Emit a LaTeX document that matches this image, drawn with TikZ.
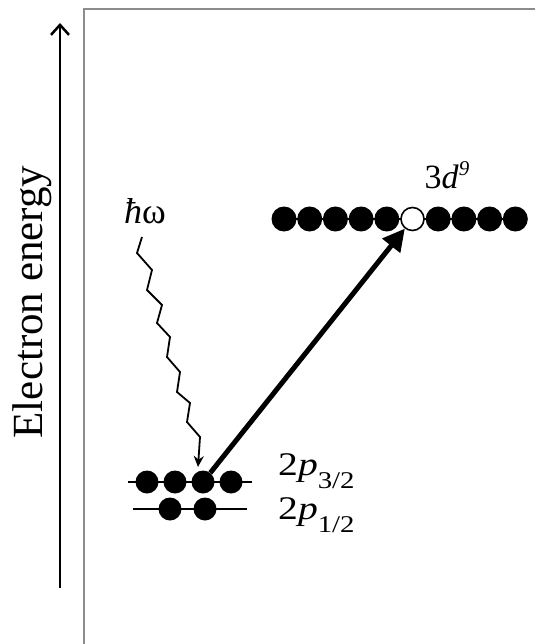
\documentclass[tikz,border=0pt]{standalone}
\usepackage{fontspec}
\setmainfont{Liberation Serif}
\usetikzlibrary{arrows.meta}
\newcommand{\plabel}[1]{\scalebox{1.2}[1]{\fontsize{33}{33}\selectfont 2\textit{p}\raisebox{-13pt}{\fontsize{24}{24}\selectfont #1}}}
\begin{document}
\begin{tikzpicture}[x=1pt,y=-1pt,
  elec/.style={circle,fill=black,inner sep=0pt,minimum size=25pt},
  elecs/.style={circle,fill=black,inner sep=0pt,minimum size=23pt},
  hole/.style={circle,draw=black,fill=white,line width=1.6pt,inner sep=0pt,minimum size=23pt},
  level/.style={line width=1.2pt},
  lbl/.style={inner sep=0pt},
  frameline/.style={draw=black!45,line width=1.4pt}]
\useasboundingbox (0,0) rectangle (535,644);
\fill[white] (0,0) rectangle (535,644);
% frame
\coordinate (fbl) at (84,644);
\coordinate (ftl) at (84,9);
\coordinate (ftr) at (535,9);
\draw[frameline] (fbl) -- (ftl) -- (ftr);
% energy axis
\coordinate (ea0) at (60,588);
\coordinate (ea1) at (60,23);
\draw[line width=2pt,-{Straight Barb[length=10pt,width=18pt,line width=2.5pt]}] (ea0) -- (ea1);
\node[lbl,rotate=90,anchor=base,font=\fontsize{43}{43}\selectfont] (elab) at (42,302) {Electron energy};
% 3d level
\coordinate (dl0) at (272,219);
\coordinate (dl1) at (527,219);
\draw[level] (dl0) -- (dl1);
\foreach \i in {0,1,2,3,4,6,7,8,9}{
  \node[elec] (d\i) at ({284+25.7*\i},219) {};
}
\node[hole] (d5) at ({284+25.7*5},219) {};
\node[lbl,anchor=base,font=\fontsize{34}{34}\selectfont] (dlab) at (447,189) {3\textit{d}\raisebox{13pt}{\fontsize{21}{21}\selectfont\textit{9}}};
% 2p3/2 level
\coordinate (pa0) at (128,482);
\coordinate (pa1) at (252,482);
\draw[level] (pa0) -- (pa1);
\node[elecs] (p1) at (147,482) {};
\node[elecs] (p2) at (175,482) {};
\node[elecs] (p3) at (203,482) {};
\node[elecs] (p4) at (231,482) {};
% 2p1/2 level
\coordinate (pb0) at (133,509);
\coordinate (pb1) at (247,509);
\draw[level] (pb0) -- (pb1);
\node[elecs] (q1) at (170,509) {};
\node[elecs] (q2) at (205,509) {};
\node[lbl,anchor=base west] (plab1) at (278,475) {\plabel{3/2}};
\node[lbl,anchor=base west] (plab2) at (278,519) {\plabel{1/2}};
% photon
\node[lbl,anchor=base,font=\fontsize{36}{36}\selectfont] (hw) at (145,223) {\textit{ħ}ω};
\coordinate (w0) at (142,237);
\coordinate (wend) at (198,467);
\draw[line width=1.8pt,line join=miter,-{Stealth[length=11pt,width=10pt]}]
  (w0) -- (137,253) -- (152,270) -- (147,290) -- (162,305) -- (157,323)
  -- (170,337) -- (167,357) -- (180,372) -- (177,392) -- (190,403)
  -- (187,422) -- (200,437) -- (wend);
% excitation arrow
\draw[line width=5pt,-{Triangle[length=22pt,width=22pt]}] (p3) -- (d5);
\end{tikzpicture}
\end{document}
